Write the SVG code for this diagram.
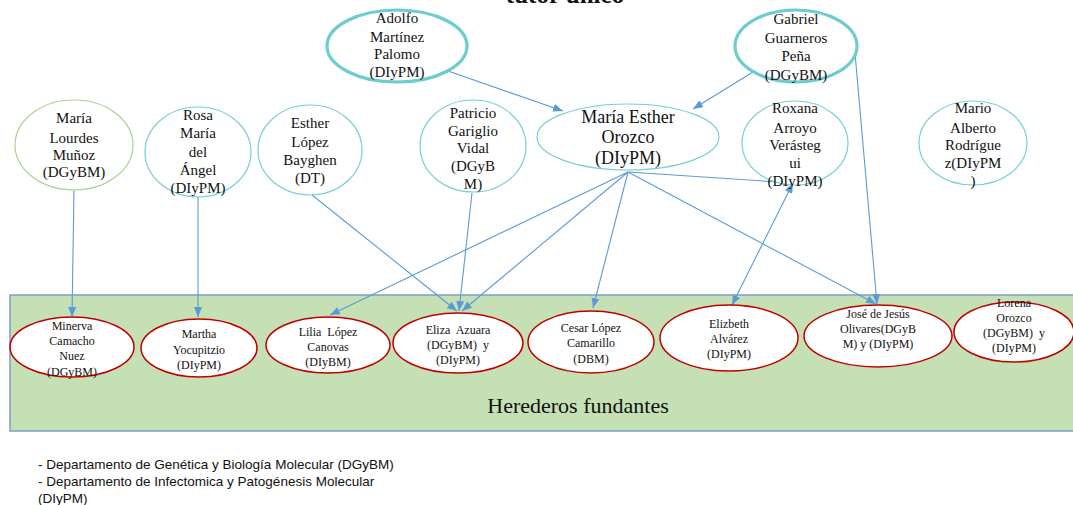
<svg xmlns="http://www.w3.org/2000/svg" width="1073" height="505" viewBox="0 0 1073 505">
<style>
.t{font-family:"Liberation Serif","Times New Roman",serif;fill:#111;text-anchor:middle}
.top{fill:#fff;stroke:#6dcdcd;stroke-width:3.2}
.mid{fill:#fff;stroke:#74d0d4;stroke-width:1.2}
.grn{fill:#fff;stroke:#a9d18e;stroke-width:1.2}
.red{fill:#fff;stroke:#c00000;stroke-width:1.5}
.f15{font-size:15px}
.f12{font-size:12px}
.c line{stroke:#5b9bd5;stroke-width:1.1;marker-end:url(#ah)}
.leg{font-family:"Liberation Sans",Arial,sans-serif;font-size:13.5px;fill:#111}
</style>
<defs>
<marker id="ah" markerUnits="userSpaceOnUse" markerWidth="12" markerHeight="10" refX="10" refY="4" orient="auto">
<path d="M0,0 L10,4 L0,8 Z" fill="#5b9bd5"/>
</marker>
<marker id="ahs" markerUnits="userSpaceOnUse" markerWidth="12" markerHeight="10" refX="0" refY="4" orient="auto">
<path d="M10,0 L0,4 L10,8 Z" fill="#5b9bd5"/>
</marker>
</defs>
<rect width="1073" height="505" fill="#fff"/>
<text class="t" x="565" y="3" font-size="25" font-weight="bold">tutor único</text>

<g id="herederos">
<rect x="10" y="295" width="1070" height="136" fill="#c5e0b4" stroke="#7f9fc9" stroke-width="1.5"/>
<text class="t" x="578" y="413" font-size="22">Herederos fundantes</text>
</g>

<g class="c" id="connectors">
<line x1="448" y1="71" x2="563" y2="111"/>
<line x1="753" y1="72" x2="693" y2="109"/>
<line x1="855" y1="53" x2="877" y2="304"/>
<line x1="74" y1="189" x2="72" y2="317"/>
<line x1="198" y1="197" x2="198" y2="317"/>
<line x1="312" y1="195" x2="457" y2="311"/>
<line x1="472" y1="193" x2="459" y2="311"/>
<line x1="628" y1="172" x2="330" y2="315"/>
<line x1="628" y1="172" x2="462" y2="311"/>
<line x1="628" y1="172" x2="593" y2="308"/>
<line x1="628" y1="172" x2="876" y2="304"/>
<line x1="628" y1="172" x2="793" y2="183"/>
<line x1="793" y1="183" x2="732" y2="305" marker-start="url(#ahs)"/>
</g>

<g id="adolfo">
<ellipse class="top" cx="397" cy="46" rx="70" ry="36"/>
<text class="t f15" x="397" y="23">Adolfo</text>
<text class="t f15" x="397" y="42">Martínez</text>
<text class="t f15" x="397" y="59">Palomo</text>
<text class="t f15" x="397" y="77">(DIyPM)</text>
</g>
<g id="gabriel">
<ellipse class="top" cx="796" cy="46" rx="61" ry="36"/>
<text class="t f15" x="796" y="24">Gabriel</text>
<text class="t f15" x="796" y="43">Guarneros</text>
<text class="t f15" x="796" y="61">Peña</text>
<text class="t f15" x="796" y="80">(DGyBM)</text>
</g>

<g id="maria-lourdes">
<ellipse class="grn" cx="74" cy="145" rx="59" ry="45"/>
<text class="t f15" x="74" y="123">María</text>
<text class="t f15" x="74" y="143">Lourdes</text>
<text class="t f15" x="74" y="160">Muñoz</text>
<text class="t f15" x="74" y="177">(DGyBM)</text>
</g>
<g id="rosa">
<ellipse class="mid" cx="198" cy="152" rx="53" ry="45"/>
<text class="t f15" x="198" y="120">Rosa</text>
<text class="t f15" x="198" y="138">María</text>
<text class="t f15" x="198" y="157">del</text>
<text class="t f15" x="198" y="175">Ángel</text>
<text class="t f15" x="198" y="193">(DIyPM)</text>
</g>
<g id="esther">
<ellipse class="mid" cx="310" cy="150" rx="52" ry="45"/>
<text class="t f15" x="310" y="128">Esther</text>
<text class="t f15" x="310" y="147">López</text>
<text class="t f15" x="310" y="165">Bayghen</text>
<text class="t f15" x="310" y="183">(DT)</text>
</g>
<g id="patricio">
<ellipse class="mid" cx="473" cy="146" rx="53" ry="46"/>
<text class="t f15" x="473" y="118">Patricio</text>
<text class="t f15" x="473" y="136">Gariglio</text>
<text class="t f15" x="473" y="153">Vidal</text>
<text class="t f15" x="473" y="171">(DGyB</text>
<text class="t f15" x="473" y="189">M)</text>
</g>
<g id="maria-esther">
<ellipse class="mid" cx="628" cy="137" rx="91" ry="33"/>
<text class="t" font-size="18" x="628" y="123">María Esther</text>
<text class="t" font-size="18" x="628" y="143">Orozco</text>
<text class="t" font-size="18" x="628" y="164">(DIyPM)</text>
</g>
<g id="roxana">
<ellipse class="mid" cx="795" cy="143" rx="53" ry="42"/>
<text class="t f15" x="795" y="113">Roxana</text>
<text class="t f15" x="795" y="133">Arroyo</text>
<text class="t f15" x="795" y="150">Verásteg</text>
<text class="t f15" x="795" y="168">ui</text>
<text class="t f15" x="795" y="186">(DIyPM)</text>
</g>
<g id="mario">
<ellipse class="mid" cx="973" cy="143" rx="54" ry="42"/>
<text class="t f15" x="973" y="113">Mario</text>
<text class="t f15" x="973" y="133">Alberto</text>
<text class="t f15" x="973" y="150">Rodrígue</text>
<text class="t f15" x="973" y="168">z(DIyPM</text>
<text class="t f15" x="973" y="186">)</text>
</g>

<g id="minerva">
<ellipse class="red" cx="72" cy="347" rx="62" ry="30"/>
<text class="t f12" x="72" y="330">Minerva</text>
<text class="t f12" x="72" y="345">Camacho</text>
<text class="t f12" x="72" y="360">Nuez</text>
<text class="t f12" x="72" y="376">(DGyBM)</text>
</g>
<g id="martha">
<ellipse class="red" cx="199" cy="348" rx="58" ry="29"/>
<text class="t f12" x="199" y="338">Martha</text>
<text class="t f12" x="199" y="354">Yocupitzio</text>
<text class="t f12" x="199" y="369">(DIyPM)</text>
</g>
<g id="lilia">
<ellipse class="red" cx="328" cy="345" rx="62" ry="28"/>
<text class="t f12" x="328" y="336" xml:space="preserve">Lilia  López</text>
<text class="t f12" x="328" y="351">Canovas</text>
<text class="t f12" x="328" y="366">(DIyBM)</text>
</g>
<g id="eliza">
<ellipse class="red" cx="458" cy="343" rx="65" ry="30"/>
<text class="t f12" x="458" y="334" xml:space="preserve">Eliza  Azuara</text>
<text class="t f12" x="458" y="349" xml:space="preserve">(DGyBM)  y</text>
<text class="t f12" x="458" y="364">(DIyPM)</text>
</g>
<g id="cesar">
<ellipse class="red" cx="591" cy="342" rx="63" ry="31"/>
<text class="t f12" x="591" y="332">Cesar López</text>
<text class="t f12" x="591" y="347">Camarillo</text>
<text class="t f12" x="591" y="363">(DBM)</text>
</g>
<g id="elizbeth">
<ellipse class="red" cx="729" cy="338" rx="69" ry="33"/>
<text class="t f12" x="729" y="328">Elizbeth</text>
<text class="t f12" x="729" y="343">Alvárez</text>
<text class="t f12" x="729" y="358">(DIyPM)</text>
</g>
<g id="jose">
<ellipse class="red" cx="878" cy="336" rx="74" ry="31"/>
<text class="t f12" x="878" y="318">José de Jesús</text>
<text class="t f12" x="878" y="333">Olivares(DGyB</text>
<text class="t f12" x="878" y="348">M) y (DIyPM)</text>
</g>
<g id="lorena">
<ellipse class="red" cx="1014" cy="332" rx="60" ry="30"/>
<text class="t f12" x="1014" y="307">Lorena</text>
<text class="t f12" x="1014" y="322">Orozco</text>
<text class="t f12" x="1014" y="337" xml:space="preserve">(DGyBM)  y</text>
<text class="t f12" x="1014" y="352">(DIyPM)</text>
</g>

<g id="legend">
<text class="leg" x="38" y="469">- Departamento de Genética y Biología Molecular (DGyBM)</text>
<text class="leg" x="38" y="486">- Departamento de Infectomica y Patogénesis Molecular</text>
<text class="leg" x="38" y="503">(DIyPM)</text>
</g>
</svg>
